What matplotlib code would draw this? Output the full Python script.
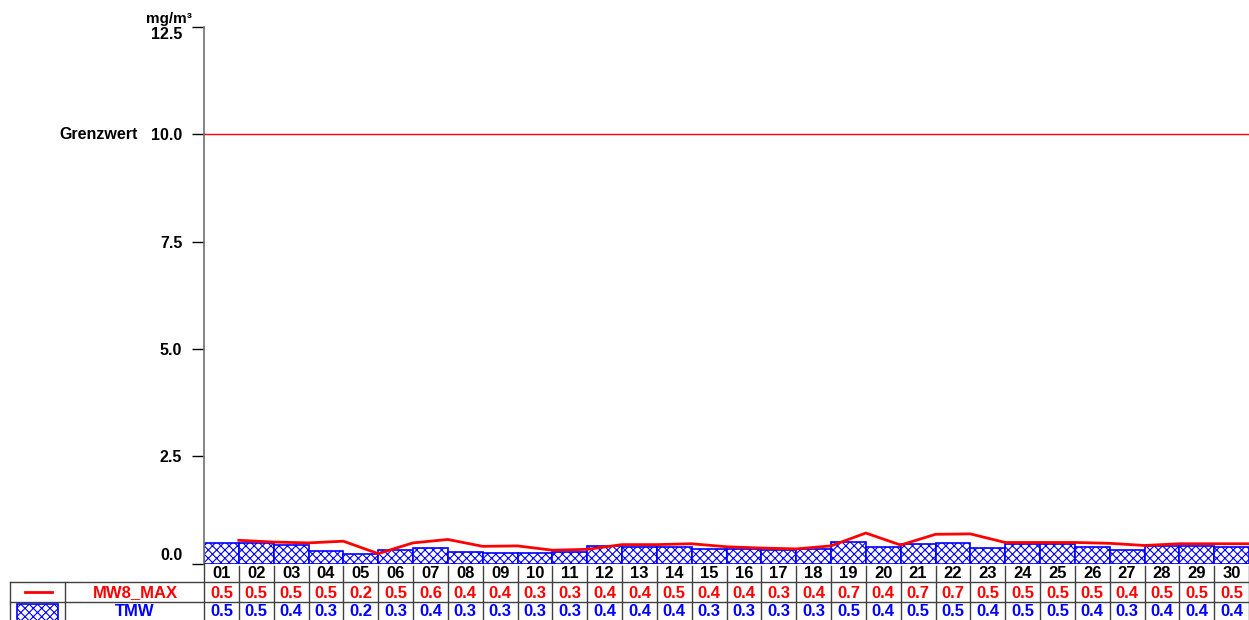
import matplotlib
matplotlib.use('Agg')
import matplotlib.pyplot as plt
import numpy as np
from matplotlib.transforms import blended_transform_factory
from matplotlib.lines import Line2D
from matplotlib.patches import Rectangle

plt.rcParams['font.family'] = ['Liberation Sans', 'DejaVu Sans']
plt.rcParams['font.weight'] = 'bold'
plt.rcParams['hatch.linewidth'] = 0.8

# data
days = ['%02d' % d for d in range(1, 31)]
tmw = [0.47, 0.47, 0.43, 0.30, 0.21, 0.31, 0.37, 0.27, 0.25, 0.25,
       0.26, 0.41, 0.39, 0.39, 0.34, 0.33, 0.32, 0.34, 0.49, 0.39,
       0.46, 0.48, 0.37, 0.45, 0.46, 0.39, 0.31, 0.40, 0.41, 0.39]
mw8_max = [0.54, 0.50, 0.48, 0.52, 0.23, 0.48, 0.56, 0.40, 0.41, 0.31,
           0.33, 0.44, 0.44, 0.46, 0.39, 0.36, 0.34, 0.41, 0.71, 0.43,
           0.68, 0.69, 0.49, 0.49, 0.49, 0.47, 0.42, 0.46, 0.46, 0.46]
mw8_labels = ['0.5', '0.5', '0.5', '0.5', '0.2', '0.5', '0.6', '0.4', '0.4', '0.3',
              '0.3', '0.4', '0.4', '0.5', '0.4', '0.4', '0.3', '0.4', '0.7', '0.4',
              '0.7', '0.7', '0.5', '0.5', '0.5', '0.5', '0.4', '0.5', '0.5', '0.5']
tmw_labels = ['0.5', '0.5', '0.4', '0.3', '0.2', '0.3', '0.4', '0.3', '0.3', '0.3',
              '0.3', '0.4', '0.4', '0.4', '0.3', '0.3', '0.3', '0.3', '0.5', '0.4',
              '0.5', '0.5', '0.4', '0.5', '0.5', '0.4', '0.3', '0.4', '0.4', '0.4']
grenzwert = 10.0
yticks = [0.0, 2.5, 5.0, 7.5, 10.0, 12.5]

W, H = 1249, 620
fig = plt.figure(figsize=(W / 100, H / 100), dpi=100)
ax = fig.add_axes([204 / W, 1 - 563.5 / H, 1 - 204 / W, (563.5 - 27) / H])

n = len(days)
x = np.arange(n)
ax.bar(x + 0.5, tmw, width=1.0, facecolor='white', edgecolor='#0000ff',
       hatch='xxxx', linewidth=1.2, zorder=2)
ax.plot(x + 1, mw8_max, color='#ff0000', linewidth=2, zorder=3, clip_on=False)
ax.axhline(grenzwert, color='#ff0000', linewidth=1, zorder=1)

ax.set_xlim(0, n)
ax.set_ylim(0, 12.5)
ax.set_xticks([])
ax.set_yticks(yticks)
ax.set_yticklabels(['%.1f' % v for v in yticks], fontsize=11.5, fontweight='bold')
ax.tick_params(axis='y', length=8.6, width=1, pad=7, color='black')
tl = ax.get_yticklabels()
tl[0].set_va('bottom')
tl[-1].set_va('top')
for s in ['top', 'right', 'bottom']:
    ax.spines[s].set_visible(False)
ax.spines['left'].set_color('#707070')
ax.spines['left'].set_linewidth(1.2)

fig.text(192 / W, 1 - 19 / H, 'mg/m³', ha='right', va='center',
         fontsize=11, fontweight='bold')
gtrans = blended_transform_factory(fig.transFigure, ax.transData)
ax.text(138 / W, grenzwert, 'Grenzwert', transform=gtrans, ha='right',
        va='center', fontsize=11.5, fontweight='bold')

# data table below the chart
trans = blended_transform_factory(ax.transData, fig.transFigure)
def fy(py):
    return 1 - py / H

row_day, row_mw8, row_tmw = 574, 593, 612
for i in range(n):
    ax.text(i + 0.5, fy(row_day), days[i], transform=trans, ha='center',
            va='center', fontsize=12, fontweight='bold', color='black', clip_on=False)
    ax.text(i + 0.5, fy(row_mw8), mw8_labels[i], transform=trans, ha='center',
            va='center', fontsize=12, fontweight='bold', color='#ff0000', clip_on=False)
    ax.text(i + 0.5, fy(row_tmw), tmw_labels[i], transform=trans, ha='center',
            va='center', fontsize=12, fontweight='bold', color='#0000ff', clip_on=False)

grid = '#404040'
for i in range(1, n + 1):
    fig.add_artist(Line2D([ax.transData.transform((i, 0))[0] / W] * 2,
                          [fy(566), 0], color=grid, linewidth=1))
fig.add_artist(Line2D([204 / W] * 2, [fy(563), 0], color=grid, linewidth=1))
for px in [10, 65]:
    fig.add_artist(Line2D([px / W] * 2, [fy(582), 0], color=grid, linewidth=1))
for py in [582, 602]:
    fig.add_artist(Line2D([10 / W, 1], [fy(py)] * 2, color=grid, linewidth=1))

fig.text(135 / W, fy(row_mw8), 'MW8_MAX', ha='center', va='center',
         fontsize=12, fontweight='bold', color='#ff0000')
fig.text(135 / W, fy(row_tmw), 'TMW', ha='center', va='center',
         fontsize=12, fontweight='bold', color='#0000ff')
fig.add_artist(Line2D([25 / W, 52 / W], [fy(592)] * 2, color='#ff0000', linewidth=2))
fig.add_artist(Rectangle((17 / W, fy(621)), 41 / W, 17 / H, transform=fig.transFigure,
                         facecolor='white', edgecolor='#0000ff', hatch='xxxx',
                         linewidth=1.2))

fig.savefig('out.png', dpi=100)
